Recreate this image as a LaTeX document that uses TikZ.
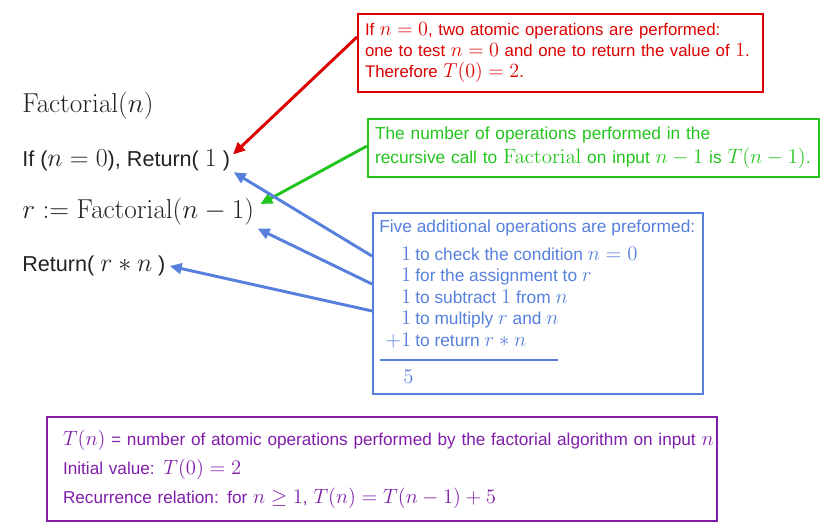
\RequirePackage{fix-cm}
\documentclass[tikz,border=0pt]{standalone}
\usepackage[no-math]{fontspec}
\setmainfont{Liberation Sans}
\usepackage{amsmath,amssymb}
\usetikzlibrary{arrows.meta,positioning}

% math a little larger than the sans text round it
\DeclareMathSizes{16.2}{19.5}{14}{10}
\DeclareMathSizes{13}{15.6}{11}{9}
\DeclareMathSizes{12.9}{15.5}{11}{9}
\DeclareMathSizes{12.6}{15.1}{11}{9}

\definecolor{basered}{RGB}{220,0,0}
\definecolor{callgreen}{RGB}{36,196,30}
\definecolor{opsblue}{RGB}{86,128,220}
\definecolor{recpurple}{RGB}{128,30,170}
\definecolor{codegray}{RGB}{34,34,34}

\begin{document}
\begin{tikzpicture}[x=0.75pt, y=-0.75pt, >={Triangle[length=9pt,width=8pt]},
  codeline/.style={anchor=west, inner sep=0pt, text=codegray, font=\fontsize{16.2}{19}\selectfont},
  mathline/.style={anchor=west, inner sep=0pt, text=codegray, font=\fontsize{20.5}{24}\selectfont},
  notebox/.style={draw, line width=1.5pt, anchor=north west, align=left, inner xsep=5.25pt, inner ysep=0pt},
  pointer/.style={->, line width=2.2pt}]

\useasboundingbox (0,0) rectangle (830,531);

% the algorithm
\node[mathline] (head) at (22,106) {$\mathrm{Factorial}(n)$};
\node[codeline] (ifline) at (22,160) {If ($n=0$), Return( $1$ )};
\node[mathline] (recline) at (22,212) {$r:=\mathrm{Factorial}(n-1)$};
\node[codeline] (retline) at (22,266) {Return( $r*n$ )};

% base case note
\node[notebox, draw=basered, text=basered, text width=293pt, minimum height=58.5pt,
  font=\fontsize{12.6}{15.75}\selectfont] (basenote) at (357,13)
  {If $n=0$, two atomic operations are performed:\\
   one to test $n=0$ and one to return the value of $1$.\\
   Therefore $T(0)=2$.};

% recursive call note
\node[notebox, draw=callgreen, text=callgreen, text width=327.5pt, minimum height=43.5pt,
  font=\fontsize{13}{18}\selectfont] (callnote) at (367,118)
  {The number of operations performed in the\\
   recursive call to $\mathrm{Factorial}$ on input $n-1$ is $T(n-1)$.};

% additional operations
\node[draw=opsblue, line width=1.5pt, anchor=north west, minimum width=247.5pt, minimum height=135.75pt,
  inner sep=0pt] (opsnote) at (372,212) {};
\node[anchor=west, inner sep=0pt, text=opsblue, font=\fontsize{13}{15}\selectfont] (opshead) at (379,228)
  {Five additional operations are preformed:};
\node[anchor=west, inner sep=0pt, text=opsblue, font=\fontsize{13}{16.1}\selectfont] (opslist) at (385,299)
  {\begin{tabular}{@{}r@{\hspace{3pt}}l@{}}
   $1$ & to check the condition $n=0$\\
   $1$ & for the assignment to $r$\\
   $1$ & to subtract $1$ from $n$\\
   $1$ & to multiply $r$ and $n$\\
   $+1$ & to return $r*n$
   \end{tabular}};
\coordinate (sumleft) at (380,360);
\coordinate (sumright) at (558,360);
\draw[opsblue, line width=2.2pt] (sumleft) -- (sumright);
\node[anchor=west, inner sep=0pt, text=opsblue, font=\fontsize{13}{15}\selectfont] (opssum) at (403,377) {$5$};

% recurrence summary
\node[notebox, draw=recpurple, text=recpurple, text width=478.5pt, minimum height=78pt, inner xsep=12pt,
  font=\fontsize{12.9}{21.75}\selectfont] (recnote) at (46,416)
  {\makebox[\linewidth][l]{$T(n)$ = number of atomic operations performed by the factorial algorithm on input $n$}\\
   Initial value: $T(0)=2$\\
   Recurrence relation: for $n\geq1$, $T(n)=T(n-1)+5$};

% pointers
\draw[pointer, basered] ([yshift=-18pt]basenote.north west) -- ([xshift=2pt,yshift=-4pt]ifline.north east);
\draw[pointer, callgreen] ([yshift=1.5pt]callnote.west) -- ([xshift=4.5pt,yshift=-4.5pt]recline.north east);
\draw[pointer, opsblue] ([yshift=35.6pt]opsnote.west) -- ([xshift=2.5pt,yshift=-1pt]ifline.south east);
\draw[pointer, opsblue] ([yshift=14.6pt]opsnote.west) -- ([xshift=2.5pt,yshift=-2pt]recline.south east);
\draw[pointer, opsblue] ([yshift=-5.6pt]opsnote.west) -- ([xshift=3pt]retline.east);
\end{tikzpicture}
\end{document}
